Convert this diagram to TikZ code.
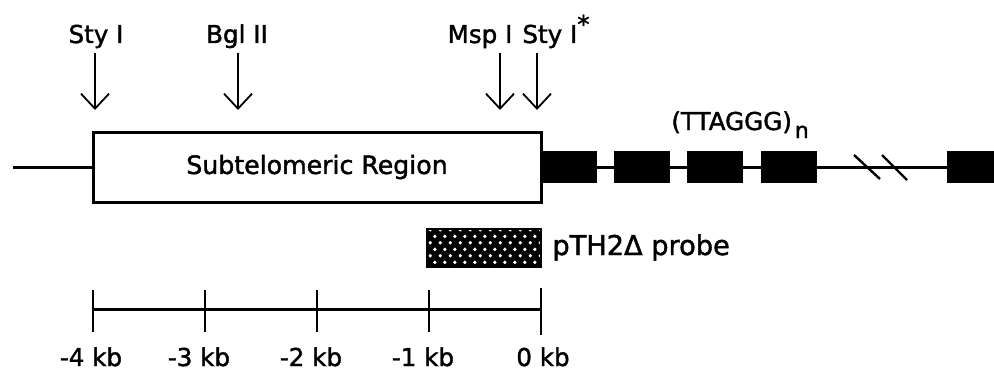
\documentclass[tikz,border=0pt]{standalone}
\usepackage{fontspec}
\setmainfont{DejaVu Sans}[BoldFont={DejaVu Sans}, BoldFeatures={FakeBold=1.6}]
\usepackage{tikz}
\usetikzlibrary{arrows.meta, positioning, patterns.meta}

\pgfdeclarepattern{
    name=probedots,
    type=uncolored,
    bottom left={\pgfpoint{0pt}{0pt}},
    top right={\pgfpoint{4.75pt}{6.4pt}},
    tile size={\pgfpoint{4.75pt}{6.4pt}},
    code={
        \pgfpathcircle{\pgfpoint{1.2pt}{1.6pt}}{0.95pt}
        \pgfpathcircle{\pgfpoint{3.575pt}{4.8pt}}{0.95pt}
        \pgfusepath{fill}
    }
}

\begin{document}
\begin{tikzpicture}[
    x=0.5pt, y=-0.5pt,
    lbl/.style={font=\fontsize{12.3}{14}\selectfont\bfseries, inner sep=2pt},
    regionbox/.style={
        rectangle, draw=black, line width=1.5pt, fill=white,
        minimum width=224pt, minimum height=35pt, inner sep=0pt,
        font=\fontsize{12.6}{14}\selectfont\bfseries
    },
    repblock/.style={
        rectangle, fill=black, minimum width=28pt, minimum height=16pt,
        inner sep=0pt
    },
    probebox/.style={
        rectangle, draw=black, line width=1pt, minimum width=57pt,
        minimum height=19pt, inner sep=0pt,
        preaction={fill=black},
        pattern=probedots, pattern color=white
    },
    dna/.style={line width=1.5pt},
    cutarr/.style={-{Straight Barb[length=7.5pt, width=14pt]}, line width=0.9pt},
    tick/.style={line width=1pt}
]
\useasboundingbox (0,0) rectangle (994,374);

% ===================================================================
% Restriction sites (top)
% ===================================================================
\node[lbl, anchor=base] (styA) at (96,43) {Sty I};
\node[lbl, anchor=base] (bgl)  at (237,43) {Bgl II};
\node[lbl, anchor=base] (msp)  at (480,43) {Msp I};
\node[lbl, anchor=base west] (styB) at (518,43) {Sty I\raisebox{5pt}{*}};

\coordinate (cutA) at (95,110);
\coordinate (cutB) at (238,110);
\coordinate (cutC) at (500,110);
\coordinate (cutD) at (537,110);

\draw[cutarr] (cutA |- styA.south) -- (cutA);
\draw[cutarr] (cutB |- bgl.south) -- (cutB);
\draw[cutarr] (cutC |- msp.south) -- (cutC);
\draw[cutarr] (cutD |- styB.south) -- (cutD);

% ===================================================================
% Chromosome end
% ===================================================================
\coordinate (lend) at (13,167);
\node[regionbox] (region) at (317,167) {Subtelomeric Region};
\draw[dna] (lend) -- (region.west);

\node[repblock] (rep1) at (569,167) {};
\node[repblock] (rep2) at (642,167) {};
\node[repblock] (rep3) at (715,167) {};
\node[repblock] (rep4) at (789,167) {};
\node[repblock, minimum width=23.5pt] (rep5) at (970.5,167) {};

\draw[dna] (region.east) -- (rep1) -- (rep2) -- (rep3) -- (rep4) -- (rep5);

% break marks
\draw[line width=1.2pt] (854,155) -- (880,179);
\draw[line width=1.2pt] (882,155) -- (907,180);

\node[lbl, anchor=base west] (telo) at (667,130)
    {(TTAGGG)\hspace{1.5pt}{\fontsize{11}{12}\selectfont\raisebox{-4pt}{n}}};

% ===================================================================
% Probe
% ===================================================================
\node[probebox] (probe) at (484,247.5) {};
\node[lbl, font=\fontsize{13.6}{15}\selectfont\bfseries, right=3pt of probe]
    (probelbl) {pTH2Δ probe};

% ===================================================================
% Scale bar (bottom)
% ===================================================================
\coordinate (kb4) at (93,309);
\coordinate (kb3) at (205,309);
\coordinate (kb2) at (317,309);
\coordinate (kb1) at (429,309);
\coordinate (kb0) at (541,309);
\draw[dna] (kb4) -- (kb0);

\draw[tick] (93,290) -- (93,332);
\draw[tick] (205,290) -- (205,332);
\draw[tick] (317,290) -- (317,332);
\draw[tick] (429,290) -- (429,332);
\draw[tick] (541,288) -- (541,335);

\node[lbl, anchor=base] (lbl4) at (91,366) {-4 kb};
\node[lbl, anchor=base] (lbl3) at (199,366) {-3 kb};
\node[lbl, anchor=base] (lbl2) at (311,366) {-2 kb};
\node[lbl, anchor=base] (lbl1) at (423,366) {-1 kb};
\node[lbl, anchor=base] (lbl0) at (543,366) {0 kb};

\end{tikzpicture}
\end{document}
